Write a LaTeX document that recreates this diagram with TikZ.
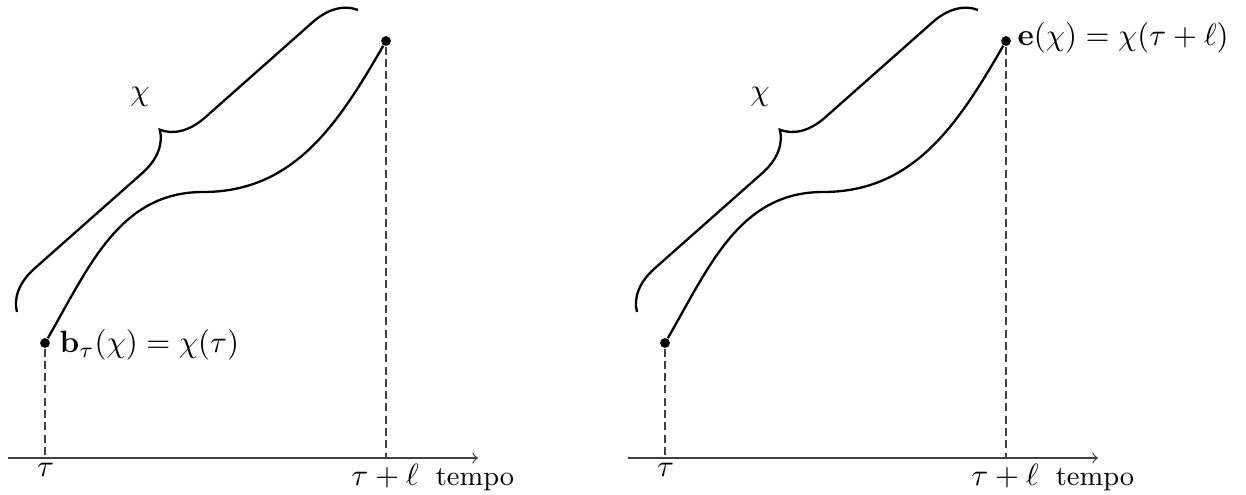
\documentclass[tikz,border=0pt]{standalone}
\usetikzlibrary{decorations.pathreplacing}
\begin{document}
\begin{tikzpicture}[x=0.325pt,y=-0.325pt,
  dot/.style={circle,fill=black,inner sep=0pt,minimum size=3.2pt},
  curveline/.style={line width=0.75pt},
  bracepath/.style={line width=0.75pt,decorate,decoration={brace,amplitude=13.6pt}},
  guide/.style={line width=0.4pt,draw=black!75,dash pattern=on 2.6pt off 1.4pt},
  axisline/.style={line width=0.4pt,draw=black!75,->},
  lab/.style={inner sep=0pt,anchor=base}]
\useasboundingbox (0,0) rectangle (1246,495);
% left panel
\begin{scope}
  \coordinate (a0L) at (8,458);
  \coordinate (a1L) at (478,458);
  \coordinate (tbL) at (45,458);
  \coordinate (teL) at (386,458);
  \coordinate (mL) at (203,192);
  \coordinate (br0L) at (17,312);
  \coordinate (br1L) at (358,10);
  \node[dot] (bL) at (45,343) {};
  \node[dot] (eL) at (386,41) {};
  \draw[axisline] (a0L) -- (a1L);
  \draw[guide] (bL) -- (tbL);
  \draw[guide] (eL) -- (teL);
  \draw[curveline] (bL) to[out=60,in=180] (mL) to[out=0,in=240] (eL);
  \draw[bracepath] (br0L) -- (br1L);
  \node[lab] (chiL) at (140,101) {$\chi$};
  \node[lab] (tauL) at (45.5,476) {$\tau$};
  \node[lab] (tlL) at (385,485) {$\tau+\ell$};
  \node[lab] (tpL) at (475,485) {\small tempo};
  \node[inner sep=0pt,anchor=base west] (blabL) at (59,352.5) {$\mathbf{b}_\tau(\chi)=\chi(\tau)$};
\end{scope}
% right panel
\begin{scope}[shift={(620,0)}]
  \coordinate (a0R) at (8,458);
  \coordinate (a1R) at (478,458);
  \coordinate (tbR) at (45,458);
  \coordinate (teR) at (386,458);
  \coordinate (mR) at (203,192);
  \coordinate (br0R) at (17,312);
  \coordinate (br1R) at (358,10);
  \node[dot] (bR) at (45,343) {};
  \node[dot] (eR) at (386,41) {};
  \draw[axisline] (a0R) -- (a1R);
  \draw[guide] (bR) -- (tbR);
  \draw[guide] (eR) -- (teR);
  \draw[curveline] (bR) to[out=60,in=180] (mR) to[out=0,in=240] (eR);
  \draw[bracepath] (br0R) -- (br1R);
  \node[lab] (chiR) at (140,101) {$\chi$};
  \node[lab] (tauR) at (45.5,476) {$\tau$};
  \node[lab] (tlR) at (385,485) {$\tau+\ell$};
  \node[lab] (tpR) at (475,485) {\small tempo};
  \node[inner sep=0pt,anchor=base west] (elabR) at (397,45.5) {$\mathbf{e}(\chi)=\chi(\tau+\ell)$};
\end{scope}
\end{tikzpicture}
\end{document}
